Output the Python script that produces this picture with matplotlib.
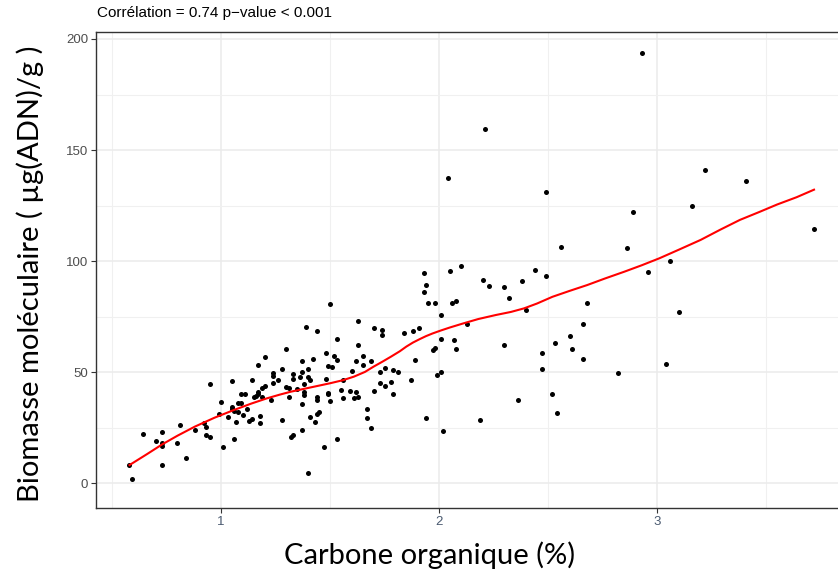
import matplotlib.pyplot as plt
import numpy as np

# carbone organique (%)
carbone = [0.58, 0.59, 0.64, 0.70, 0.73, 0.73, 0.73, 0.73, 0.80, 0.81,
           0.84, 0.88, 0.92, 0.93, 0.93, 0.95, 0.95, 0.99, 1.00, 1.01,
           1.03, 1.05, 1.05, 1.05, 1.06, 1.07, 1.06, 1.08, 1.09, 1.09,
           1.11, 1.08, 1.10, 1.12, 1.13, 1.14, 1.14, 1.15, 1.16, 1.17,
           1.17, 1.17, 1.18, 1.18, 1.19, 1.20, 1.20, 1.19, 1.23, 1.24,
           1.24, 1.24, 1.26, 1.28, 1.28, 1.30, 1.30, 1.31, 1.31, 1.32,
           1.33, 1.33, 1.33, 1.35, 1.37, 1.37, 1.36, 1.37, 1.37, 1.38,
           1.38, 1.38, 1.39, 1.40, 1.40, 1.41, 1.41, 1.40, 1.42, 1.43,
           1.44, 1.44, 1.44, 1.44, 1.45, 1.47, 1.48, 1.48, 1.49, 1.49,
           1.49, 1.51, 1.50, 1.50, 1.52, 1.53, 1.53, 1.53, 1.55, 1.56,
           1.56, 1.59, 1.60, 1.61, 1.62, 1.62, 1.63, 1.63, 1.63, 1.65,
           1.65, 1.67, 1.67, 1.69, 1.69, 1.70, 1.70, 1.73, 1.75, 1.73,
           1.75, 1.74, 1.74, 1.78, 1.79, 1.79, 1.81, 1.84, 1.87, 1.88,
           1.89, 1.91, 1.93, 1.94, 1.93, 1.95, 1.98, 2.01, 2.04, 2.05,
           2.10, 2.06, 2.08, 2.13, 2.21, 2.20, 2.23, 2.30, 2.32, 2.38,
           2.40, 2.44, 2.49, 2.49, 2.56, 2.01, 1.97, 1.98, 2.07, 2.08,
           2.30, 2.47, 2.47, 2.53, 1.99, 2.01, 1.94, 2.02, 2.19, 2.36,
           2.52, 2.54, 2.60, 2.61, 2.66, 2.66, 2.68, 2.82, 2.86, 2.89,
           2.93, 2.96, 3.04, 3.06, 3.10, 3.16, 3.22, 3.41, 3.72]

# biomasse moleculaire (µg ADN / g)
biomasse = [8.3, 2.2, 22.1, 19.0, 23.0, 18.4, 16.9, 8.2, 18.4, 26.3,
            11.5, 23.9, 27.1, 25.6, 21.7, 21.1, 44.6, 31.4, 36.8, 16.3,
            30.1, 46.3, 34.6, 33.7, 20.0, 27.5, 32.6, 36.1, 36.1, 40.1,
            40.1, 32.2, 31.0, 33.4, 28.3, 29.2, 46.7, 38.8, 39.5, 53.2,
            41.3, 40.3, 30.4, 27.4, 42.8, 43.9, 56.8, 38.8, 37.4, 49.9,
            48.5, 45.4, 46.6, 51.4, 28.7, 60.4, 43.6, 42.8, 38.9, 21.1,
            21.7, 49.1, 46.9, 42.4, 55.1, 50.0, 47.9, 35.6, 23.9, 40.0,
            44.6, 41.2, 70.6, 51.7, 47.9, 46.6, 30.1, 4.9, 56.0, 27.8,
            68.6, 39.1, 37.4, 31.4, 32.2, 16.6, 58.9, 47.0, 40.3, 40.6,
            52.7, 52.4, 37.1, 80.8, 57.5, 55.4, 64.9, 20.2, 41.9, 46.6,
            38.3, 41.8, 50.6, 38.6, 41.3, 55.0, 38.8, 73.3, 62.2, 57.2,
            53.3, 33.7, 29.6, 55.1, 25.0, 70.1, 41.6, 50.3, 51.8, 45.4,
            43.9, 69.2, 66.7, 45.5, 40.3, 51.1, 50.3, 67.7, 46.6, 68.5,
            55.6, 70.1, 94.6, 89.3, 86.3, 81.2, 81.2, 75.8, 137.3, 95.5,
            97.7, 81.2, 82.0, 71.8, 159.5, 91.4, 89.0, 88.5, 83.6, 91.1,
            78.2, 95.9, 93.5, 131.3, 106.6, 64.9, 60.1, 61.1, 64.7, 60.4,
            62.3, 58.7, 51.4, 63.2, 48.8, 50.3, 29.3, 23.5, 28.6, 37.6,
            40.4, 31.7, 66.4, 60.7, 71.6, 56.0, 81.4, 49.7, 106.0, 122.2,
            193.6, 95.0, 53.9, 100.0, 77.2, 124.7, 140.9, 136.2, 114.4]

# loess curve (red)
lissage_x = [0.58, 0.66, 0.73, 0.80, 0.88, 0.97, 1.06, 1.14, 1.21, 1.27,
             1.32, 1.40, 1.50, 1.56, 1.61, 1.66, 1.70, 1.74, 1.78, 1.82,
             1.85, 1.88, 1.91, 1.94, 1.97, 2.01, 2.05, 2.11, 2.18, 2.26,
             2.33, 2.39, 2.45, 2.52, 2.60, 2.68, 2.76, 2.85, 2.93, 3.01,
             3.10, 3.20, 3.29, 3.38, 3.47, 3.55, 3.64, 3.72]
lissage_y = [8.3, 13.2, 17.6, 21.5, 25.6, 29.6, 33.1, 36.0, 38.3, 40.0,
             41.3, 43.0, 45.1, 46.5, 48.1, 50.2, 52.6, 54.8, 57.1, 59.5,
             61.6, 63.4, 64.9, 66.3, 67.5, 68.9, 70.2, 72.0, 74.0, 75.8,
             77.2, 78.8, 81.0, 84.0, 86.7, 89.3, 92.2, 95.3, 98.2, 101.3,
             105.2, 109.6, 114.2, 118.6, 122.2, 125.5, 128.8, 132.2]

titre = "Corrélation = 0.74 p\u2212value < 0.001"

fig = plt.figure(figsize=(8.38, 5.75), dpi=100)
ax = fig.add_axes([0.1142, 0.117, 0.8858, 0.8268])

# grid like ggplot theme_bw
ax.set_xticks([1, 2, 3])
ax.set_xticks([0.5, 1.5, 2.5, 3.5], minor=True)
ax.set_yticks([0, 50, 100, 150, 200])
ax.set_yticks([25, 75, 125, 175], minor=True)
ax.grid(which='major', color='#EBEBEB', linewidth=1.1)
ax.grid(which='minor', color='#F0F0F0', linewidth=0.8)
ax.set_axisbelow(True)

ax.scatter(carbone, biomasse, s=13, color='black', zorder=3, linewidths=0)
ax.plot(lissage_x, lissage_y, color='#FF0000', linewidth=1.5, zorder=4)

ax.set_xlim(0.425, 3.83)
ax.set_ylim(-10.9, 203.0)

for side in ['left', 'bottom', 'top']:
    ax.spines[side].set_color('#333333')
    ax.spines[side].set_linewidth(1.0)
ax.spines['right'].set_visible(False)

ax.tick_params(which='major', length=3.3, width=0.8, color='#333333', labelsize=9.5)
ax.tick_params(which='minor', length=0)
ax.tick_params(axis='y', labelcolor='#4D4D4D', pad=2)
ax.tick_params(axis='x', labelcolor='#4A5A70', pad=3)
for lab in ax.get_xticklabels() + ax.get_yticklabels():
    lab.set_family('Liberation Sans')

fig.text(97 / 838, 1 - 13 / 575, titre, ha='left', va='center', fontsize=11,
         family='Liberation Sans', color='black')

# axis titles (large, pasted in the slide)
fig.text(430 / 838, 1 - 555 / 575, "Carbone organique (%)", ha='center', va='center',
         fontsize=21, family='Lato')
fig.text(30 / 838, 1 - 274 / 575, "Biomasse moléculaire ( µg(ADN)/g )", ha='center',
         va='center', rotation=90, fontsize=21, family='Lato')

plt.savefig('out.png', dpi=100)
plt.close()
